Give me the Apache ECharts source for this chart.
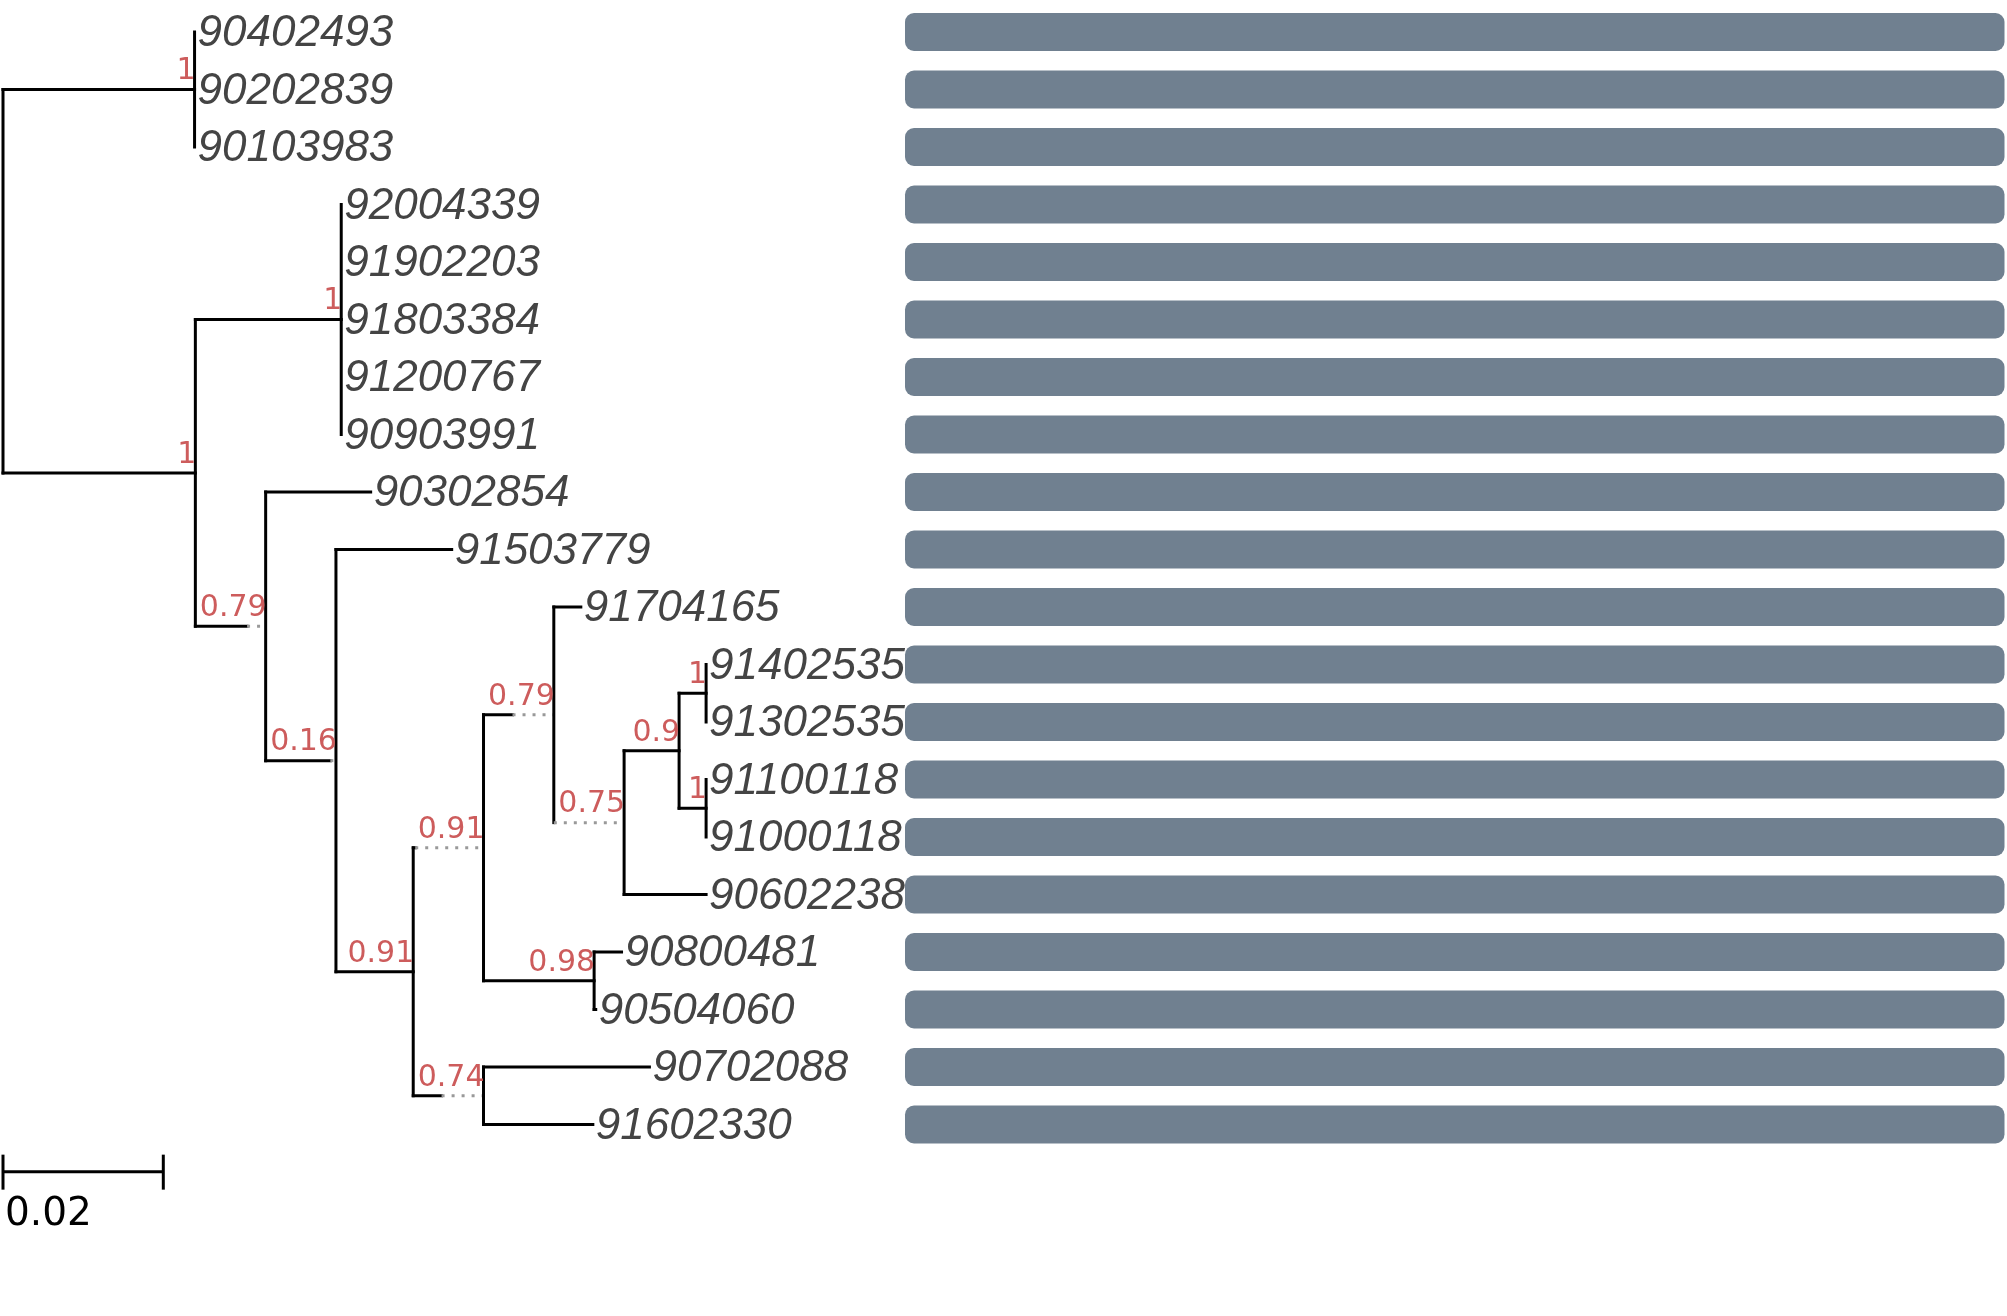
<!DOCTYPE html>
<html>
<head>
<meta charset="utf-8">
<title>tree</title>
<script src="https://cdn.jsdelivr.net/npm/echarts@6/dist/echarts.min.js"></script>
<style>
html,body{margin:0;padding:0;background:#fff;}
#container{width:2007px;height:1316px;}
</style>
</head>
<body>
<div id="container"></div>
<script>
// 节点表：父节点在前，子节点按从上到下的顺序
var nodeIds = ['root', 'A', '90402493', '90202839', '90103983',
	'B', 'B1', '92004339', '91902203', '91803384', '91200767', '90903991',
	'B2', '90302854', 'B3', '91503779', 'B4', 'B5', 'B7', '91704165',
	'B9', 'B10', 'B11', '91402535', '91302535', 'B12', '91100118', '91000118',
	'90602238', 'B8', '90800481', '90504060', 'B6', '90702088', '91602330'];
var nodeParents = [-1, 0, 1, 1, 1,
	0, 5, 6, 6, 6, 6, 6,
	5, 12, 12, 14, 14, 16, 17, 18,
	18, 20, 21, 22, 22, 21, 25, 25,
	20, 17, 29, 29, 16, 32, 32];
var branchLengths = [0, 0.0239, 0, 0, 0,
	0.0240, 0.0182, 0, 0, 0, 0, 0,
	0.00645, 0.0131, 0.00807, 0.01444, 0.00964, 0.00025, 0.00362, 0.00337,
	0, 0.00686, 0.00337, 0, 0, 0.00337, 0, 0,
	0.01023, 0.0138, 0.00342, 0.0002, 0.00354, 0.0207, 0.01364];
var supportValues = [null, 1, null, null, null,
	1, 1, null, null, null, null, null,
	0.79, null, 0.16, null, 0.91, 0.91, 0.79, null,
	0.75, 0.9, 1, null, null, 1, null, null,
	null, 0.98, null, null, 0.74, null, null];
// 右侧条形（每个序列的长度，全部相同）
var barValues = [100, 100, 100, 100, 100, 100, 100, 100, 100, 100,
	100, 100, 100, 100, 100, 100, 100, 100, 100, 100];
var scaleLength = 0.02;
var scaleText = '0.02';

// 画图参数
var pxPerUnit = 160.3 / scaleLength;
var rowHeight = 57.5;
var topPad = 32 - rowHeight / 2;
var treeMaxX = 0.14;
var treeMaxRow = 21;
var scaleRow = 19.82;
var supportFont = '30px "DejaVu Sans"';
var tipFont = 'italic 44px "Liberation Sans"';

// 量一下支持率文字的宽度，枝比文字短时用虚线补齐
var measureCtx = document.createElement('canvas').getContext('2d');
measureCtx.font = supportFont;
function textWidth(t) {
	return measureCtx.measureText(t).width;
}

// 建树
var children = nodeIds.map(function () { return []; });
nodeParents.forEach(function (p, i) {
	if (p >= 0) children[p].push(i);
});
var nodeX = [], nodeY = [], nodeExt = [];
var tipOrder = [];
function layout(i, x) {
	var ext = 0;
	if (supportValues[i] !== null && nodeParents[i] >= 0) {
		var need = (textWidth(String(supportValues[i])) + 3.5) / pxPerUnit;
		ext = Math.max(0, need - branchLengths[i]);
	}
	nodeExt[i] = ext;
	nodeX[i] = x + branchLengths[i] + ext;
	if (children[i].length === 0) {
		nodeY[i] = tipOrder.length;
		tipOrder.push(i);
	} else {
		children[i].forEach(function (c) { layout(c, nodeX[i]); });
		var first = children[i][0], last = children[i][children[i].length - 1];
		nodeY[i] = (nodeY[first] + nodeY[last]) / 2;
	}
}
layout(0, 0);
var tipNames = tipOrder.map(function (i) { return nodeIds[i]; });

// 线段：[x1, y1, x2, y2, 是否虚线]
var segments = [];
nodeIds.forEach(function (id, i) {
	var p = nodeParents[i];
	if (p >= 0) {
		var solidEnd = nodeX[p] + branchLengths[i];
		if (branchLengths[i] > 0) segments.push([nodeX[p], nodeY[i], solidEnd, nodeY[i], 0]);
		if (nodeExt[i] > 0) segments.push([solidEnd, nodeY[i], nodeX[i], nodeY[i], 1]);
	}
	if (children[i].length > 0) {
		var first = children[i][0], last = children[i][children[i].length - 1];
		segments.push([nodeX[i], nodeY[first], nodeX[i], nodeY[last], 0]);
	}
});

var supportData = [], supportTexts = [];
nodeIds.forEach(function (id, i) {
	if (supportValues[i] !== null && nodeParents[i] >= 0) {
		supportData.push([nodeX[i], nodeY[i]]);
		supportTexts.push(String(supportValues[i]));
	}
});
var tipData = tipOrder.map(function (i) { return [nodeX[i], nodeY[i]]; });

function renderSegment(params, api) {
	var a = api.coord([api.value(0), api.value(1)]);
	var b = api.coord([api.value(2), api.value(3)]);
	var dotted = api.value(4) === 1;
	return {
		type: 'line',
		shape: {x1: a[0], y1: a[1], x2: b[0], y2: b[1]},
		style: dotted ? {stroke: '#999', lineWidth: 3, lineDash: [3, 7]}
			: {stroke: '#000', lineWidth: 3, lineCap: 'square'}
	};
}

function renderSupport(params, api) {
	var p = api.coord([api.value(0), api.value(1)]);
	return {
		type: 'text',
		x: p[0] + 1,
		y: p[1] - 3,
		style: {
			text: supportTexts[params.dataIndex],
			font: supportFont,
			fill: '#cd5c5c',
			align: 'right',
			verticalAlign: 'bottom'
		}
	};
}

function renderTip(params, api) {
	var p = api.coord([api.value(0), api.value(1)]);
	return {
		type: 'text',
		x: p[0] + 3,
		y: p[1] + 2,
		style: {
			text: tipNames[params.dataIndex],
			font: tipFont,
			fill: '#444',
			align: 'left',
			verticalAlign: 'middle'
		}
	};
}

function renderScale(params, api) {
	var a = api.coord([api.value(0), api.value(2)]);
	var b = api.coord([api.value(1), api.value(2)]);
	var lw = {stroke: '#000', lineWidth: 3};
	return {
		type: 'group',
		children: [
			{type: 'line', shape: {x1: a[0], y1: a[1], x2: b[0], y2: b[1]}, style: lw},
			{type: 'line', shape: {x1: a[0], y1: a[1] - 17, x2: a[0], y2: a[1] + 18}, style: lw},
			{type: 'line', shape: {x1: b[0], y1: b[1] - 17, x2: b[0], y2: b[1] + 18}, style: lw},
			{type: 'text', x: a[0] + 2, y: a[1] + 24, style: {
				text: scaleText, font: '39px "DejaVu Sans"', fill: '#000',
				align: 'left', verticalAlign: 'top'
			}}
		]
	};
}

var dom = document.getElementById('container');
var myChart = echarts.init(dom);
var option = {
	animation: false,
	backgroundColor: '#fff',
	grid: [{
		left: 3,
		top: topPad,
		width: treeMaxX * pxPerUnit,
		height: (treeMaxRow + 0.5) * rowHeight
	}, {
		left: 905,
		right: 2.5,
		top: topPad,
		height: tipNames.length * rowHeight
	}],
	xAxis: [{
		gridIndex: 0, type: 'value', min: 0, max: treeMaxX, show: false
	}, {
		gridIndex: 1, type: 'value', min: 0, max: 100, show: false
	}],
	yAxis: [{
		gridIndex: 0, type: 'value', min: -0.5, max: treeMaxRow, inverse: true, show: false
	}, {
		gridIndex: 1, type: 'category', data: tipNames, inverse: true, show: false
	}],
	series: [{
		type: 'bar',
		xAxisIndex: 1,
		yAxisIndex: 1,
		data: barValues,
		barWidth: 38,
		itemStyle: {color: '#708090', borderRadius: 9},
		silent: true
	}, {
		type: 'custom',
		xAxisIndex: 0,
		yAxisIndex: 0,
		data: segments,
		renderItem: renderSegment,
		clip: false,
		z: 3
	}, {
		type: 'custom',
		data: supportData,
		renderItem: renderSupport,
		clip: false,
		z: 4
	}, {
		type: 'custom',
		data: tipData,
		renderItem: renderTip,
		clip: false,
		z: 5
	}, {
		type: 'custom',
		data: [[0, scaleLength, scaleRow]],
		renderItem: renderScale,
		clip: false,
		z: 3
	}]
};
myChart.setOption(option, true);
</script>
</body>
</html>
